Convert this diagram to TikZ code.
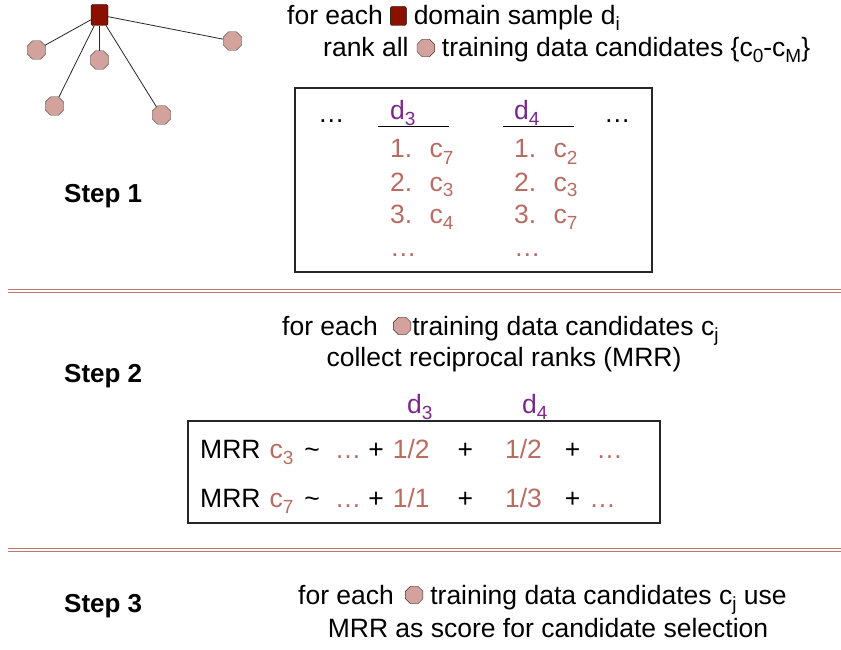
\documentclass[tikz,border=0pt]{standalone}
\usepackage{fontspec}
\setmainfont{Liberation Sans}
\usetikzlibrary{positioning,shapes.geometric}

\definecolor{domred}{RGB}{140,16,0}
\definecolor{candpink}{RGB}{212,162,156}
\definecolor{rankrose}{RGB}{183,108,99}
\definecolor{dpurple}{RGB}{122,40,138}
\definecolor{seprose}{RGB}{190,118,110}

\newcommand{\subix}[1]{\raisebox{-6pt}{\fontsize{19}{19}\selectfont #1}}

\tikzset{
	txt/.style={font=\fontsize{26.5}{30}\selectfont, inner sep=0pt, text height=18pt, text depth=0pt},
	steplbl/.style={font=\fontsize{26}{30}\selectfont\bfseries, inner sep=0pt, anchor=base west},
	dom/.style={draw=black, fill=domred, rounded corners=2pt, minimum width=17pt, minimum height=21pt, inner sep=0pt},
	cand/.style={regular polygon, regular polygon sides=8, draw=black!80, fill=candpink, minimum size=20pt, inner sep=0pt},
	sepline/.style={draw=seprose, double=white, line width=1.5pt, double distance=1.5pt},
	boxln/.style={draw=black!85, line width=1.2pt},
}

\begin{document}
\begin{tikzpicture}[x=1pt, y=-1pt, node distance=45pt]
			\useasboundingbox (0,0) rectangle (841,650);

			% domain sample and its candidates
			\node[dom] (d) at (99.5,15) {};
			\node[cand] (c1)[below of = d, xshift=-63, yshift=10] {};
			\node[cand] (c2)[below of = d] {};
			\node[cand] (c3)[below of = c2, xshift=-45, yshift=-1] {};
			\node[cand] (c4)[below of = c2, xshift=62, yshift=-10] {};
			\node[cand] (c5)[right of = d, xshift=88, yshift=-26] {};

			\path[every edge/.append style={draw=black!85, line width=0.8pt}]
				(d) edge (c1)
				(d) edge (c2)
				(d) edge (c3)
				(d) edge (c4)
				(d) edge (c5)
			;

			% step 1
			\node[txt, anchor=base west] (s1a) at (287,25) {for each};
			\node[dom, minimum width=16pt, minimum height=19pt, right=7pt of s1a] (s1d) {};
			\node[txt, right=7pt of s1d] (s1b) {domain sample d\subix{i}};
			\node[txt, anchor=base west] (s1c) at (323,57) {rank all};
			\node[cand, minimum size=19pt, right=8pt of s1c] (s1o) {};
			\node[txt, right=7pt of s1o] (s1e) {training data candidates \{c\subix{0}-c\subix{M}\}};

			\node[steplbl] (step1) at (64,202) {Step 1};

			\draw[boxln] (295,88) rectangle (652,272);
			\node[txt, anchor=base west] (dotl) at (318,123) {…};
			\node[txt, anchor=base west] (dotr) at (604,123) {…};
			\node[txt, anchor=base west, text=dpurple] (r3) at (390,120) {d\subix{3}};
			\node[txt, anchor=base west, text=dpurple] (r4) at (514,120) {d\subix{4}};
			\draw[line width=1pt] (378,127) -- (449,127);
			\draw[line width=1pt] (503,127) -- (574,127);
			\node[inner sep=0pt, anchor=base west, text=rankrose, font=\fontsize{26.5}{33}\selectfont] (rank3) at (390,158)
				{\begin{tabular}[t]{@{}l@{\hspace{13pt}}l@{}}
					1. & c\subix{7}\\
					2. & c\subix{3}\\
					3. & c\subix{4}\\
					… &
				\end{tabular}};
			\node[inner sep=0pt, anchor=base west, text=rankrose, font=\fontsize{26.5}{33}\selectfont] (rank4) at (514,158)
				{\begin{tabular}[t]{@{}l@{\hspace{13pt}}l@{}}
					1. & c\subix{2}\\
					2. & c\subix{3}\\
					3. & c\subix{7}\\
					… &
				\end{tabular}};

			\draw[sepline] (8,291) -- (841,291);

			% step 2
			\node[txt, anchor=base west] (s2a) at (282,335) {for each};
			\node[cand, minimum size=19pt, right=15pt of s2a] (s2o) {};
			\node[txt, right=1pt of s2o] (s2b) {training data candidates c\subix{j}};
			\node[txt, anchor=base] (s2c) at (504,366) {collect reciprocal ranks (MRR)};

			\node[steplbl] (step2) at (64,382) {Step 2};

			\node[txt, anchor=base west, text=dpurple] (m3) at (407,413) {d\subix{3}};
			\node[txt, anchor=base west, text=dpurple] (m4) at (522,413) {d\subix{4}};
			\draw[boxln] (188,421) rectangle (660,523);
			\node[inner sep=0pt, anchor=base west, font=\fontsize{26.5}{49}\selectfont] (mrr) at (200,458)
				{\begin{tabular}[t]{@{}l@{\hspace{9pt}}l@{\hspace{11pt}}l@{\hspace{15pt}}l@{\hspace{7pt}}l@{\hspace{9pt}}l@{\hspace{28pt}}l@{\hspace{32pt}}l@{\hspace{23pt}}l@{\hspace{16pt}}l@{}}
					MRR & \textcolor{rankrose}{c\subix{3}} & \textasciitilde & \textcolor{rankrose}{…} & + & \textcolor{rankrose}{1/2} & + & \textcolor{rankrose}{1/2} & + & \textcolor{rankrose}{…}\\
					MRR & \textcolor{rankrose}{c\subix{7}} & \textasciitilde & \textcolor{rankrose}{…} & + & \textcolor{rankrose}{1/1} & + & \textcolor{rankrose}{1/3} & + & \hspace*{-7pt}\textcolor{rankrose}{…}
				\end{tabular}};

			\draw[sepline] (8,550) -- (841,550);

			% step 3
			\node[steplbl] (step3) at (64,612) {Step 3};

			\node[txt, anchor=base west] (s3a) at (298,604) {for each};
			\node[cand, minimum size=19pt, right=11pt of s3a] (s3o) {};
			\node[txt, right=7pt of s3o] (s3b) {training data candidates c\subix{j} use};
			\node[txt, anchor=base] (s3c) at (548,637) {MRR as score for candidate selection};
		\end{tikzpicture}
\end{document}
